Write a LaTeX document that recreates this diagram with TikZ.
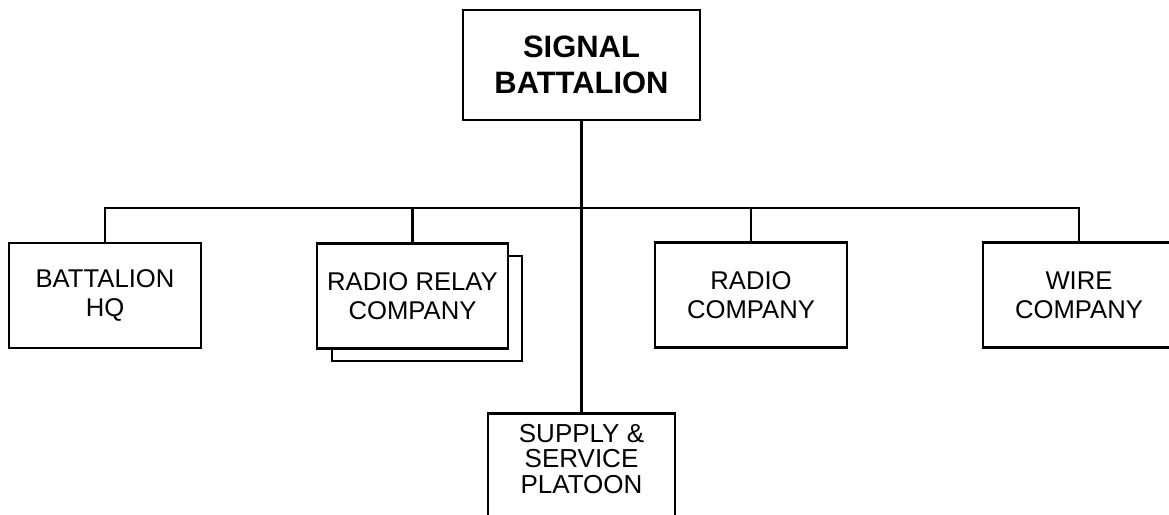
\documentclass[tikz,border=0pt]{standalone}
\usepackage{fontspec}
\setmainfont{Liberation Sans}
\tikzset{
  unitbox/.style={draw, line width=1.6pt, fill=white, align=center,
    minimum width=3.84cm, minimum height=2.1cm, inner sep=0pt,
    font=\fontsize{14.6}{16.3}\selectfont},
  headbox/.style={unitbox, minimum width=4.74cm, minimum height=2.2cm,
    font=\fontsize{17.6}{20.8}\selectfont\bfseries},
  link/.style={line width=1.5pt}
}
\begin{document}
\begin{tikzpicture}[x=0.02cm, y=-0.02cm]
  \useasboundingbox (0,0) rectangle (1169,514);
  \clip (0,0) rectangle (1169,514);
  % Battalion
  \node[headbox] (sigbn) at (581.5,65) {SIGNAL\\BATTALION};
  \coordinate (bus) at (581.5,208);
  % Companies
  \node[unitbox] (hq) at (105,295.5) {BATTALION\\HQ};
  \node[unitbox, minimum width=3.8cm] (relayback) at (427,308.5) {};
  \node[unitbox, minimum width=3.82cm] (relay) at (412.5,296) {RADIO RELAY\\COMPANY};
  \node[unitbox] (radio) at (751,295) {RADIO\\COMPANY};
  \node[unitbox] (wire) at (1079,295) {WIRE\\COMPANY};
  % Platoon (box runs off the bottom)
  \node[unitbox, minimum width=3.74cm, minimum height=2.6cm, anchor=north] (supply) at (581.5,412) {};
  \node[align=center, inner sep=0pt, font=\fontsize{14.8}{14.3}\selectfont] (supplytxt) at (581.5,459) {SUPPLY \&\\SERVICE\\PLATOON};
  % Lines
  \draw[link] (hq.north) -- (hq.north |- bus) -- (wire.north |- bus) -- (wire.north);
  \draw[link] (relay.north) -- (relay.north |- bus);
  \draw[link] (radio.north) -- (radio.north |- bus);
  \draw[link] (sigbn.south) -- (supply.north);
\end{tikzpicture}
\end{document}
